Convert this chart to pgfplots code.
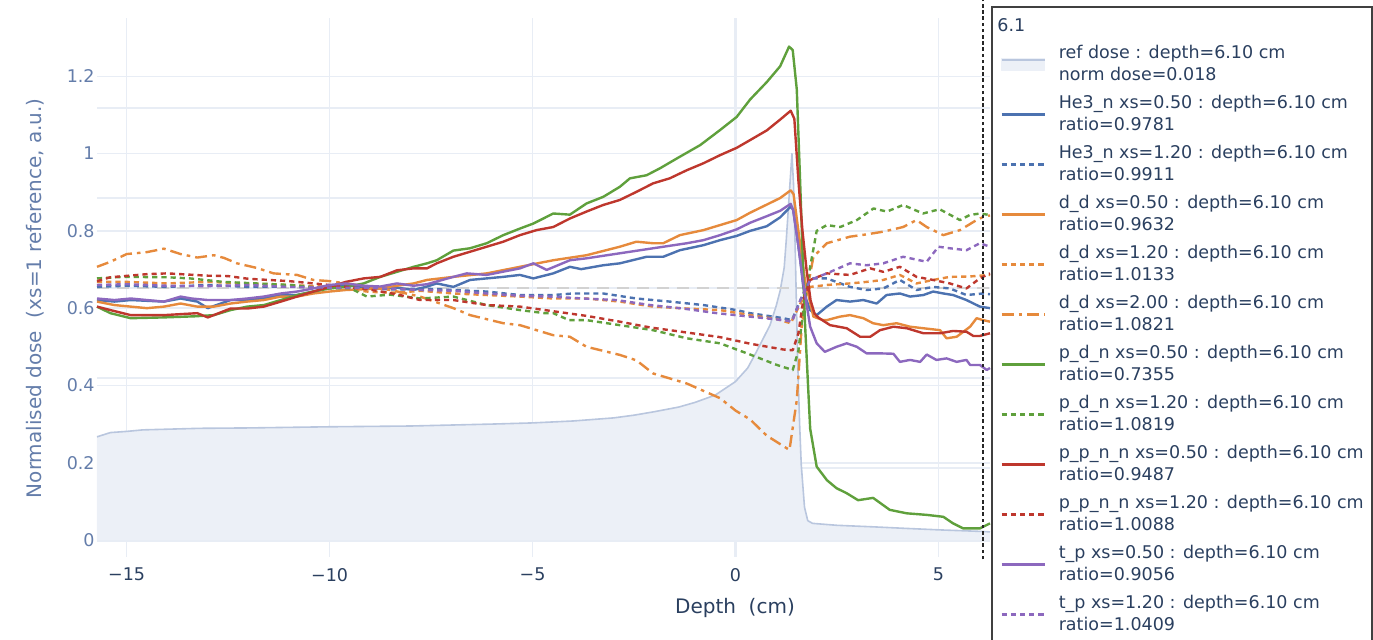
\documentclass[border=0pt]{standalone}
\usepackage{fontspec}
\setmainfont{DejaVu Sans}
\usepackage{pgfplots}
\pgfplotsset{compat=1.18}

\definecolor{cBlue}{RGB}{76,114,176}
\definecolor{cOrange}{RGB}{230,138,60}
\definecolor{cGreen}{RGB}{95,160,60}
\definecolor{cRed}{RGB}{190,55,45}
\definecolor{cPurple}{RGB}{140,104,190}
\definecolor{refline}{RGB}{185,198,222}
\definecolor{refill}{RGB}{236,240,247}
\definecolor{gridc}{RGB}{232,237,245}
\definecolor{txtc}{RGB}{42,63,95}
\definecolor{ylabc}{RGB}{100,125,170}

\tikzset{
  dotline/.style={dash pattern=on 2.6pt off 2pt},
  dashdotline/.style={dash pattern=on 6pt off 2.5pt on 1.8pt off 2.5pt},
}

\begin{document}
\begin{tikzpicture}
\useasboundingbox (0,0) rectangle (686.5pt,320pt);
\begin{axis}[
    at={(48.5pt,41.5pt)}, anchor=south west,
    scale only axis, width=446.5pt, height=269.5pt,
    xmin=-15.73, xmax=6.27, ymin=-0.044, ymax=1.351,
    clip=false,
    axis line style={draw=none},
    major tick length=0pt,
    xtick={-15,-10,-5,0,5},
    xticklabels={−15,−10,−5,0,5},
    ytick={0,0.2,0.4,0.6,0.8,1,1.2},
    yticklabels={0,0.2,0.4,0.6,0.8,1,1.2},
    extra y ticks={0.186,0.419,0.652,0.885,1.118},
    extra y tick labels={},
    extra y tick style={grid=major},
    grid=major,
    major grid style={line width=0.8pt, draw=gridc},
    xticklabel style={font=\fontsize{8.75}{10}\selectfont, text=txtc, yshift=-2pt},
    yticklabel style={font=\fontsize{8.75}{10}\selectfont, text=ylabc, inner xsep=0pt, xshift=-1pt},
    every axis x label/.style={at={(axis description cs:0.7144,-0.0946)}, anchor=center},
    every axis y label/.style={at={(axis description cs:-0.069,0.48)}, rotate=90, anchor=center},
    xlabel={Depth\ \ (cm)},
    ylabel={Normalised dose\ \ (xs=1 reference, a.u.)},
    xlabel style={font=\fontsize{10}{12}\selectfont, text=txtc},
    ylabel style={font=\fontsize{10}{12}\selectfont, text=ylabc},
    no marks,
    every axis plot/.append style={line width=1.2pt, line join=round},
    legend image code/.code={\draw[#1] (0pt,0pt) -- (21.5pt,0pt);},
    legend style={at={(1.0112,0.961)}, anchor=north west, draw=none, fill=none,
      inner sep=0pt, font=\fontsize{8.75}{11}\selectfont, text=txtc,
      column sep=4.5pt,
      cells={anchor=west, align=left, minimum height=25pt, inner sep=0pt}},
]

% zero lines
\draw[gridc, line width=1.6pt] (axis cs:0,-0.044) -- (axis cs:0,1.351);
\draw[gridc, line width=1.6pt] (axis cs:-15.73,0) -- (axis cs:6.27,0);

% reference dose (filled)
\addplot[draw=none, fill=refill, forget plot] coordinates {
(-15.73,0.267) (-15.4,0.278) (-15.0,0.281) (-14.6,0.285) (-13.2,0.289) (-12.0,0.290)
(-10.0,0.293) (-8.0,0.295) (-6.0,0.300) (-5.0,0.303) (-4.0,0.308) (-3.0,0.316)
(-2.5,0.323) (-2.0,0.332) (-1.4,0.344) (-1.0,0.356) (-0.5,0.375) (0.0,0.410)
(0.3,0.445) (0.5,0.484) (0.7,0.525) (0.85,0.556) (1.0,0.605) (1.1,0.645)
(1.2,0.705) (1.25,0.775) (1.3,0.855) (1.35,0.935) (1.39,1.000) (1.43,0.920)
(1.47,0.760) (1.53,0.470) (1.58,0.300) (1.62,0.195) (1.70,0.085) (1.78,0.050)
(1.9,0.043) (2.5,0.038) (3.4,0.034) (4.2,0.030) (5.06,0.026) (6.1,0.022) (6.27,0.021)
} \closedcycle;

\addplot[refline, line width=0.8pt,
  legend image code/.code={\fill[refill] (0pt,-3pt) rectangle (21.5pt,3pt);
    \draw[refline, line width=0.8pt] (0pt,2.2pt) -- (21.5pt,2.2pt);}] coordinates {
(-15.73,0.267) (-15.4,0.278) (-15.0,0.281) (-14.6,0.285) (-13.2,0.289) (-12.0,0.290)
(-10.0,0.293) (-8.0,0.295) (-6.0,0.300) (-5.0,0.303) (-4.0,0.308) (-3.0,0.316)
(-2.5,0.323) (-2.0,0.332) (-1.4,0.344) (-1.0,0.356) (-0.5,0.375) (0.0,0.410)
(0.3,0.445) (0.5,0.484) (0.7,0.525) (0.85,0.556) (1.0,0.605) (1.1,0.645)
(1.2,0.705) (1.25,0.775) (1.3,0.855) (1.35,0.935) (1.39,1.000) (1.43,0.920)
(1.47,0.760) (1.53,0.470) (1.58,0.300) (1.62,0.195) (1.70,0.085) (1.78,0.050)
(1.9,0.043) (2.5,0.038) (3.4,0.034) (4.2,0.030) (5.06,0.026) (6.1,0.022) (6.27,0.021)
};
\addlegendentry{ref dose : depth=6.10 cm\\norm dose=0.018}

% reference level
\addplot[gray!35, line width=1pt, dash pattern=on 6pt off 4pt, forget plot] coordinates {(-15.73,0.652) (6.27,0.652)};

% He3_n xs=0.50
\addplot[cBlue] coordinates {
(-15.73,0.621) (-15.3,0.617) (-14.9,0.621) (-14.5,0.619) (-14.08,0.617) (-13.67,0.625)
(-13.26,0.617) (-13.0,0.600) (-12.44,0.621) (-12.03,0.621) (-11.62,0.625) (-11.2,0.634)
(-10.8,0.634) (-10.4,0.643) (-10.0,0.653) (-9.6,0.660) (-9.16,0.653) (-8.75,0.651)
(-8.34,0.653) (-7.93,0.647) (-7.6,0.656) (-7.36,0.664) (-6.95,0.655) (-6.54,0.673)
(-6.13,0.677) (-5.72,0.681) (-5.31,0.686) (-4.98,0.677) (-4.49,0.690) (-4.08,0.707)
(-3.8,0.701) (-3.26,0.711) (-2.85,0.716) (-2.19,0.733) (-1.78,0.733) (-1.37,0.750)
(-0.79,0.763) (-0.38,0.776) (0.03,0.787) (0.36,0.800) (0.77,0.812) (1.1,0.835)
(1.36,0.863) (1.42,0.855) (1.5,0.800) (1.6,0.720) (1.67,0.655) (1.75,0.620)
(1.84,0.595) (2.0,0.582) (2.25,0.604) (2.49,0.621) (2.82,0.617) (3.15,0.621)
(3.48,0.612) (3.72,0.634) (4.05,0.638) (4.3,0.630) (4.63,0.634) (4.87,0.643)
(5.12,0.638) (5.36,0.634) (5.69,0.621) (6.02,0.604) (6.27,0.600)
};
\addlegendentry{He3\_n xs=0.50 : depth=6.10 cm\\ratio=0.9781}

% He3_n xs=1.20
\addplot[cBlue, dotline] coordinates {
(-15.73,0.655) (-15.0,0.658) (-14.0,0.655) (-13.0,0.660) (-12.0,0.655) (-11.0,0.656)
(-10.0,0.652) (-9.0,0.650) (-8.3,0.648) (-7.77,0.651) (-6.95,0.647) (-6.13,0.643)
(-5.31,0.634) (-4.49,0.634) (-4.0,0.638) (-3.26,0.638) (-2.44,0.625) (-1.62,0.617)
(-0.79,0.608) (0.03,0.595) (0.36,0.587) (1.18,0.574) (1.39,0.569) (1.6,0.621)
(1.84,0.677) (2.25,0.677) (2.82,0.655) (3.23,0.647) (3.64,0.651) (4.05,0.673)
(4.46,0.647) (4.87,0.655) (5.28,0.651) (5.69,0.634) (6.1,0.638) (6.27,0.636)
};
\addlegendentry{He3\_n xs=1.20 : depth=6.10 cm\\ratio=0.9911}

% d_d xs=0.50
\addplot[cOrange] coordinates {
(-15.73,0.617) (-15.3,0.608) (-14.9,0.604) (-14.5,0.600) (-14.08,0.604) (-13.67,0.612)
(-13.26,0.604) (-12.85,0.604) (-12.44,0.612) (-12.03,0.617) (-11.62,0.621) (-11.2,0.630)
(-10.8,0.630) (-10.4,0.638) (-10.0,0.643) (-9.6,0.647) (-9.16,0.649) (-8.75,0.651)
(-8.34,0.658) (-7.93,0.664) (-7.6,0.673) (-6.95,0.681) (-6.13,0.690) (-5.31,0.707)
(-4.49,0.724) (-3.67,0.737) (-2.85,0.759) (-2.44,0.772) (-2.03,0.768) (-1.78,0.768)
(-1.37,0.789) (-0.79,0.802) (-0.38,0.815) (0.03,0.828) (0.36,0.847) (0.77,0.868)
(1.1,0.885) (1.36,0.905) (1.43,0.895) (1.55,0.800) (1.71,0.673) (1.92,0.578)
(2.16,0.569) (2.25,0.569) (2.57,0.578) (2.82,0.582) (3.15,0.574) (3.39,0.561)
(3.64,0.556) (3.97,0.561) (4.3,0.552) (4.63,0.548) (5.04,0.543) (5.2,0.522)
(5.45,0.526) (5.78,0.552) (5.94,0.574) (6.1,0.569) (6.27,0.565)
};
\addlegendentry{d\_d xs=0.50 : depth=6.10 cm\\ratio=0.9632}

% d_d xs=1.20
\addplot[cOrange, dotline] coordinates {
(-15.73,0.668) (-15.0,0.668) (-14.0,0.664) (-13.0,0.668) (-12.0,0.664) (-11.0,0.660)
(-10.0,0.655) (-9.0,0.642) (-8.3,0.640) (-7.77,0.645) (-6.95,0.638) (-6.13,0.634)
(-5.31,0.630) (-4.49,0.625) (-3.67,0.625) (-2.85,0.617) (-2.03,0.604) (-1.2,0.599)
(-0.38,0.595) (0.36,0.582) (1.0,0.572) (1.36,0.561) (1.6,0.612) (1.84,0.655)
(2.25,0.660) (2.82,0.664) (3.23,0.668) (3.64,0.673) (4.05,0.686) (4.46,0.664)
(4.87,0.673) (5.28,0.681) (5.77,0.682) (6.27,0.686)
};
\addlegendentry{d\_d xs=1.20 : depth=6.10 cm\\ratio=1.0133}

% d_d xs=2.00
\addplot[cOrange, dashdotline] coordinates {
(-15.73,0.707) (-15.4,0.720) (-15.0,0.740) (-14.5,0.745) (-14.08,0.754) (-13.67,0.740)
(-13.26,0.731) (-12.85,0.737) (-12.6,0.730) (-12.28,0.716) (-11.79,0.704) (-11.38,0.690)
(-10.8,0.686) (-10.4,0.673) (-10.0,0.670) (-9.6,0.664) (-8.5,0.647) (-7.77,0.630)
(-6.95,0.600) (-6.54,0.582) (-5.72,0.561) (-5.31,0.556) (-4.49,0.530) (-4.08,0.526)
(-3.67,0.500) (-2.85,0.479) (-2.44,0.465) (-2.03,0.431) (-1.2,0.405) (-0.38,0.367)
(0.0,0.335) (0.36,0.312) (0.77,0.270) (1.33,0.233) (1.51,0.362) (1.63,0.552)
(1.75,0.638) (1.92,0.733) (2.25,0.768) (2.82,0.785) (3.23,0.791) (3.64,0.798)
(4.13,0.810) (4.46,0.828) (4.71,0.810) (5.12,0.789) (5.53,0.802) (5.94,0.828)
(6.1,0.836) (6.27,0.840)
};
\addlegendentry{d\_d xs=2.00 : depth=6.10 cm\\ratio=1.0821}

% p_d_n xs=0.50
\addplot[cGreen] coordinates {
(-15.73,0.604) (-15.4,0.587) (-14.9,0.574) (-14.1,0.576) (-13.3,0.579) (-12.85,0.582)
(-12.44,0.595) (-12.03,0.604) (-11.62,0.608) (-11.2,0.621) (-10.8,0.634) (-10.4,0.643)
(-10.0,0.651) (-9.6,0.655) (-9.16,0.664) (-8.75,0.681) (-8.34,0.694) (-7.93,0.707)
(-7.6,0.716) (-7.36,0.724) (-6.95,0.749) (-6.54,0.755) (-6.13,0.768) (-5.72,0.789)
(-5.31,0.806) (-4.98,0.819) (-4.49,0.845) (-4.08,0.842) (-3.67,0.871) (-3.26,0.888)
(-2.85,0.914) (-2.6,0.936) (-2.19,0.944) (-1.86,0.962) (-1.37,0.992) (-0.87,1.022)
(-0.38,1.061) (0.03,1.095) (0.36,1.140) (0.77,1.185) (1.10,1.226) (1.32,1.277)
(1.41,1.268) (1.51,1.166) (1.59,0.935) (1.71,0.566) (1.84,0.288) (2.0,0.190)
(2.25,0.155) (2.49,0.134) (2.74,0.121) (3.02,0.103) (3.39,0.109) (3.80,0.078)
(4.22,0.069) (4.71,0.065) (5.12,0.060) (5.36,0.043) (5.61,0.030) (6.02,0.030) (6.27,0.043)
};
\addlegendentry{p\_d\_n xs=0.50 : depth=6.10 cm\\ratio=0.7355}

% p_d_n xs=1.20
\addplot[cGreen, dotline] coordinates {
(-15.73,0.677) (-15.08,0.681) (-14.0,0.680) (-13.44,0.677) (-12.62,0.668) (-11.8,0.664)
(-10.97,0.660) (-10.16,0.652) (-9.5,0.652) (-9.08,0.630) (-8.51,0.635) (-7.77,0.625)
(-6.95,0.630) (-6.13,0.608) (-5.31,0.595) (-4.7,0.587) (-4.49,0.587) (-4.1,0.569)
(-3.67,0.569) (-2.85,0.556) (-2.03,0.543) (-1.2,0.522) (-0.38,0.509) (0.36,0.480)
(1.02,0.453) (1.41,0.440) (1.55,0.490) (1.67,0.595) (1.84,0.707) (2.0,0.800)
(2.25,0.815) (2.58,0.810) (2.99,0.828) (3.40,0.858) (3.73,0.850) (4.13,0.867)
(4.62,0.845) (5.03,0.856) (5.53,0.828) (5.77,0.841) (6.02,0.845) (6.27,0.841)
};
\addlegendentry{p\_d\_n xs=1.20 : depth=6.10 cm\\ratio=1.0819}

% p_p_n_n xs=0.50
\addplot[cRed] coordinates {
(-15.73,0.604) (-15.4,0.595) (-14.9,0.582) (-14.08,0.582) (-13.26,0.587) (-13.0,0.576)
(-12.44,0.599) (-12.03,0.599) (-11.62,0.604) (-11.2,0.617) (-10.8,0.630) (-10.4,0.643)
(-10.0,0.655) (-9.6,0.668) (-9.16,0.677) (-8.75,0.681) (-8.34,0.698) (-7.93,0.703)
(-7.6,0.703) (-7.36,0.716) (-6.95,0.733) (-6.54,0.746) (-6.13,0.759) (-5.72,0.772)
(-5.31,0.789) (-4.9,0.802) (-4.49,0.810) (-4.08,0.832) (-3.67,0.850) (-3.26,0.867)
(-2.85,0.880) (-2.44,0.901) (-2.03,0.923) (-1.62,0.936) (-1.2,0.957) (-0.79,0.975)
(-0.38,0.996) (0.03,1.015) (0.36,1.035) (0.77,1.060) (1.10,1.088) (1.36,1.111)
(1.45,1.090) (1.55,0.930) (1.65,0.800) (1.75,0.700) (1.85,0.620) (1.95,0.585)
(2.05,0.575) (2.33,0.556) (2.74,0.548) (3.07,0.526) (3.32,0.526) (3.56,0.543)
(3.89,0.552) (4.22,0.548) (4.63,0.535) (5.04,0.535) (5.36,0.541) (5.69,0.539)
(5.86,0.528) (6.02,0.528) (6.27,0.535)
};
\addlegendentry{p\_p\_n\_n xs=0.50 : depth=6.10 cm\\ratio=0.9487}

% p_p_n_n xs=1.20
\addplot[cRed, dotline] coordinates {
(-15.73,0.670) (-15.4,0.680) (-14.5,0.688) (-14.0,0.690) (-13.0,0.684) (-12.5,0.683)
(-12.0,0.676) (-11.0,0.670) (-10.4,0.664) (-10.0,0.660) (-9.0,0.648) (-8.3,0.635)
(-7.77,0.621) (-6.95,0.621) (-6.13,0.608) (-5.31,0.604) (-4.49,0.592) (-3.67,0.580)
(-2.85,0.565) (-2.1,0.550) (-1.2,0.537) (-0.38,0.525) (0.36,0.508) (1.18,0.493)
(1.41,0.491) (1.55,0.535) (1.67,0.621) (1.84,0.673) (2.25,0.690) (2.82,0.686)
(3.32,0.703) (3.64,0.694) (4.05,0.707) (4.46,0.681) (4.87,0.673) (5.28,0.664)
(5.69,0.651) (6.02,0.677) (6.27,0.690)
};
\addlegendentry{p\_p\_n\_n xs=1.20 : depth=6.10 cm\\ratio=1.0088}

% t_p xs=0.50
\addplot[cPurple] coordinates {
(-15.73,0.625) (-15.3,0.621) (-14.9,0.625) (-14.5,0.621) (-14.08,0.617) (-13.67,0.630)
(-13.4,0.625) (-13.0,0.621) (-12.44,0.621) (-12.03,0.625) (-11.62,0.630) (-11.2,0.638)
(-10.8,0.643) (-10.4,0.651) (-10.0,0.660) (-9.6,0.664) (-9.16,0.658) (-8.75,0.656)
(-8.34,0.664) (-7.93,0.658) (-7.6,0.662) (-6.95,0.681) (-6.62,0.690) (-6.13,0.686)
(-5.31,0.703) (-4.98,0.716) (-4.65,0.699) (-4.08,0.724) (-3.67,0.729) (-2.85,0.742)
(-2.03,0.755) (-1.2,0.768) (-0.79,0.776) (-0.38,0.789) (0.03,0.804) (0.36,0.821)
(0.77,0.838) (1.10,0.852) (1.36,0.870) (1.42,0.854) (1.55,0.760) (1.67,0.664)
(1.84,0.552) (2.0,0.509) (2.2,0.487) (2.49,0.500) (2.74,0.509) (2.99,0.500)
(3.23,0.483) (3.56,0.483) (3.89,0.482) (4.05,0.461) (4.3,0.466) (4.55,0.461)
(4.71,0.480) (4.95,0.466) (5.2,0.470) (5.45,0.461) (5.69,0.466) (5.78,0.453)
(6.02,0.453) (6.19,0.440) (6.27,0.445)
};
\addlegendentry{t\_p xs=0.50 : depth=6.10 cm\\ratio=0.9056}

% t_p xs=1.20
\addplot[cPurple, dotline] coordinates {
(-15.73,0.660) (-15.0,0.662) (-14.0,0.658) (-13.0,0.657) (-12.0,0.660) (-11.0,0.655)
(-10.0,0.653) (-9.0,0.652) (-8.3,0.650) (-7.77,0.647) (-6.95,0.645) (-6.13,0.638)
(-5.31,0.632) (-4.57,0.630) (-3.75,0.625) (-2.93,0.621) (-2.1,0.608) (-1.29,0.599)
(-0.46,0.587) (0.36,0.578) (1.18,0.569) (1.39,0.565) (1.6,0.621) (1.84,0.673)
(2.25,0.690) (2.82,0.716) (3.23,0.711) (3.64,0.716) (4.13,0.733) (4.71,0.720)
(5.0,0.759) (5.28,0.755) (5.69,0.750) (6.02,0.768) (6.27,0.759)
};
\addlegendentry{t\_p xs=1.20 : depth=6.10 cm\\ratio=1.0409}

% current depth marker
\draw[black!85, line width=1pt, dash pattern=on 1.8pt off 1.3pt] (axis cs:6.1,-0.05) -- (axis cs:6.1,1.397);
\end{axis}

% legend frame and title
\draw[black!75, line width=0.6pt] (496pt,0pt) -- (496pt,316.5pt) -- (686pt,316.5pt) -- (686pt,0pt);
\node[anchor=west, inner sep=0pt, font=\fontsize{8.75}{11}\selectfont, text=txtc] at (498.5pt,307.5pt) {6.1};
\end{tikzpicture}
\end{document}
